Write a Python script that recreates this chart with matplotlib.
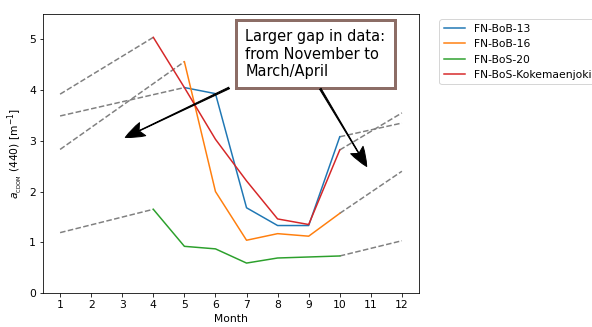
import numpy as np
import matplotlib
matplotlib.use("Agg")
import matplotlib.pyplot as plt

nan = np.nan
months = np.arange(1, 13)

# monthly mean a_CDOM(440) per station, nan = no data
series_names = ["FN-BoB-13", "FN-BoB-16", "FN-BoS-20", "FN-BoS-Kokemaenjoki"]
series_colors = ["tab:blue", "tab:orange", "tab:green", "tab:red"]
bob13 = [nan, nan, nan, nan, 4.05, 3.93, 1.68, 1.33, 1.33, 3.08, nan, nan]
bob16 = [nan, nan, nan, nan, 4.56, 2.00, 1.04, 1.17, 1.12, 1.57, nan, nan]
bos20 = [nan, nan, nan, 1.65, 0.92, 0.87, 0.59, 0.69, 0.71, 0.73, nan, nan]
koke = [nan, nan, nan, 5.04, 4.05, 3.03, 2.21, 1.46, 1.35, 2.82, nan, nan]
all_series = [bob13, bob16, bos20, koke]

# values assumed for the winter gap (January / December)
gap_jan = [3.49, 2.83, 1.19, 3.92]
gap_dec = [3.35, 2.40, 1.03, 3.55]

note = "Larger gap in data:\nfrom November to\nMarch/April"

plt.rcParams["font.size"] = 10.8

fig = plt.figure(figsize=(592 / 72, 327 / 72), dpi=72)
ax = fig.add_axes([43 / 592, 34 / 327, 376 / 592, 279 / 327])

for name, color, vals, jan, dec in zip(series_names, series_colors, all_series, gap_jan, gap_dec):
    vals = np.array(vals)
    ok = ~np.isnan(vals)
    first = months[ok][0]
    last = months[ok][-1]
    ax.plot([1, first], [jan, vals[first - 1]], "--", color="gray")
    ax.plot([last, 12], [vals[last - 1], dec], "--", color="gray")
    ax.plot(months[ok], vals[ok], color=color, label=name)

ax.set_ylim(0, 5.5)
ax.set_xticks(months)
ax.set_xlabel("Month")
ax.set_ylabel(r"$a_{_{\mathrm{CDOM}}}$ (440) [m$^{-1}$]")

ax.text(6.96, 4.22, note, fontsize=14.6, va="bottom", ha="left",
        bbox=dict(boxstyle="square,pad=0.65", fc="white", ec="#8c6d66", lw=3))

arrow = dict(arrowstyle="fancy,head_length=0.8,head_width=0.6,tail_width=0.07",
             fc="black", ec="black", mutation_scale=24)
ax.annotate("", xy=(3.04, 3.05), xytext=(6.5, 4.06), arrowprops=arrow)
ax.annotate("", xy=(10.9, 2.46), xytext=(9.34, 4.06), arrowprops=arrow)

ax.legend(loc="upper left", bbox_to_anchor=(1.04, 1))

fig.savefig("out.png", dpi=72)
